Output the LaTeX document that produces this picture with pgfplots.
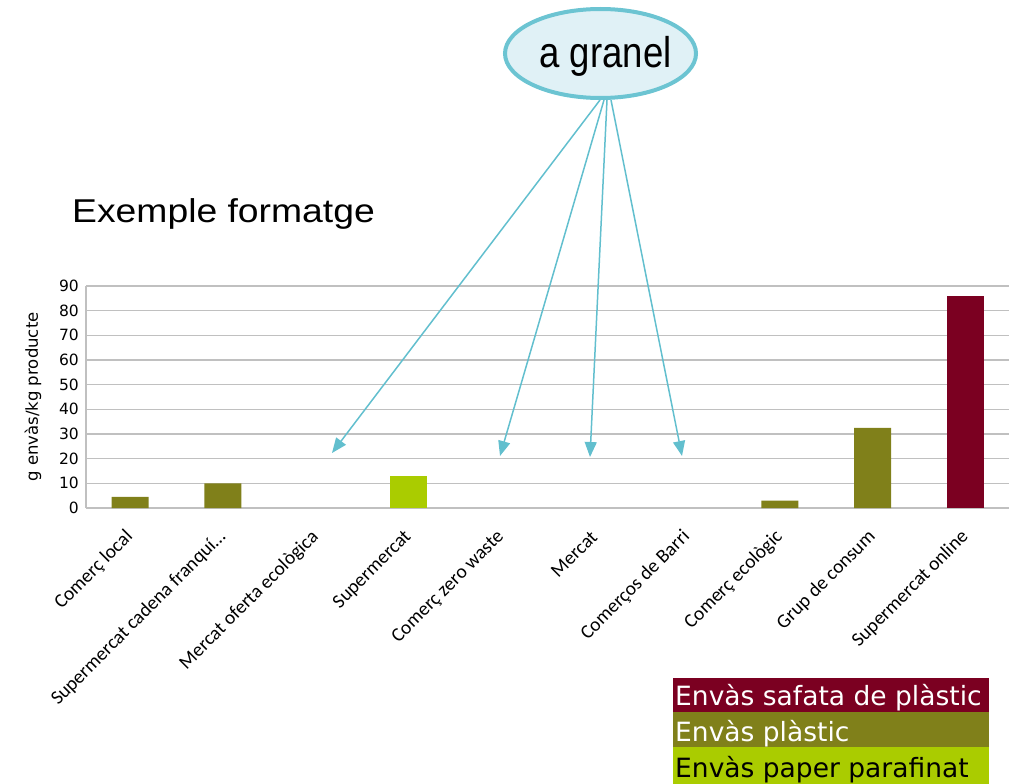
\documentclass[border=0pt]{standalone}
\usepackage{fontspec}
\setmainfont{DejaVu Sans}
\newfontfamily\arialf{Liberation Sans}
\newfontfamily\calib{Carlito}
\usepackage{pgfplots}
\pgfplotsset{compat=1.18}
\usetikzlibrary{arrows.meta}
\definecolor{darkred}{RGB}{123,0,33}
\definecolor{olive2}{RGB}{128,128,26}
\definecolor{lime2}{RGB}{170,204,0}
\definecolor{teal2}{RGB}{98,191,206}
\definecolor{ellfill}{RGB}{224,241,246}
\definecolor{ellline}{RGB}{108,196,210}
\definecolor{gridc}{RGB}{192,192,192}
\begin{document}
\begin{tikzpicture}[x=1pt,y=1pt]
\useasboundingbox (0pt,0pt) rectangle (1009pt,-784pt);
\begin{axis}[
 at={(86pt,-508pt)}, anchor=south west,
 scale only axis, width=923pt, height=222pt,
 xmin=-0.474, xmax=9.469, ymin=0, ymax=90,
 xtick={0,1,2,3,4,5,6,7,8,9},
 xticklabels={{Comerç local},{Supermercat cadena franquí\ldots},{Mercat oferta ecològica},{Supermercat},{Comerç zero waste},{Mercat},{Comerços de Barri},{Comerç ecològic},{Grup de consum},{Supermercat online}},
 ytick={0,10,20,30,40,50,60,70,80,90},
 ymajorgrids, grid style={gridc, line width=1.5pt},
 axis x line*=bottom, axis y line*=left,
 axis line style={gridc, line width=1.5pt},
 major tick length=0pt,
 /pgf/number format/assume math mode=true,
 yticklabel style={font=\fontsize{15.5}{15.5}\selectfont, inner sep=0pt, xshift=-7pt, anchor=east},
 xticklabel style={font=\calib\fontsize{19.5}{19.5}\selectfont, inner sep=0pt, xshift=0pt, yshift=-26pt, rotate=45, anchor=east},
 ylabel={g envàs/kg producte},
 every axis y label/.style={at={(axis description cs:0,0.5)}, xshift=-53pt, rotate=90, anchor=center, font=\fontsize{16.5}{16.5}\selectfont},
 clip=false,
]
\addplot[ybar, bar width=37pt, fill=olive2, draw=none] coordinates {(0,4.5) (1,10) (7,3) (8,32.5)};
\addplot[ybar, bar width=37pt, fill=lime2, draw=none] coordinates {(3,13)};
\addplot[ybar, bar width=37pt, fill=darkred, draw=none] coordinates {(9,86)};
\end{axis}
% title
\node[anchor=base west, inner sep=0pt, xscale=1.13, font=\arialf\fontsize{33}{33}\selectfont] at (72pt,-222pt) {Exemple formatge};
% ellipse callout
\draw[line width=4pt, draw=ellline, fill=ellfill] (600.5pt,-53.5pt) ellipse (95.5pt and 44.5pt);
\node[anchor=base, inner sep=0pt, xscale=0.85, font=\arialf\fontsize{43}{43}\selectfont] at (605.5pt,-67pt) {a granel};
\begin{scope}[teal2, line width=1.5pt, -{Triangle[length=15pt,width=12pt]}]
\draw (600pt,-100pt) -- (332pt,-453pt);
\draw (604pt,-100pt) -- (500pt,-456pt);
\draw (607pt,-100pt) -- (590pt,-457pt);
\draw (611pt,-100pt) -- (682pt,-456pt);
\end{scope}
% legend
\fill[darkred] (673pt,-678pt) rectangle (989pt,-712pt);
\fill[olive2] (673pt,-712pt) rectangle (989pt,-747pt);
\fill[lime2] (673pt,-747pt) rectangle (989pt,-784pt);
\begin{scope}[font=\fontsize{26.5}{26.5}\selectfont]
\node[anchor=base west, inner sep=0pt, text=white] at (675pt,-705pt) {Envàs safata de plàstic};
\node[anchor=base west, inner sep=0pt, text=white] at (675pt,-741pt) {Envàs plàstic};
\node[anchor=base west, inner sep=0pt, text=black] at (675pt,-777pt) {Envàs paper parafinat};
\end{scope}
\end{tikzpicture}
\end{document}
